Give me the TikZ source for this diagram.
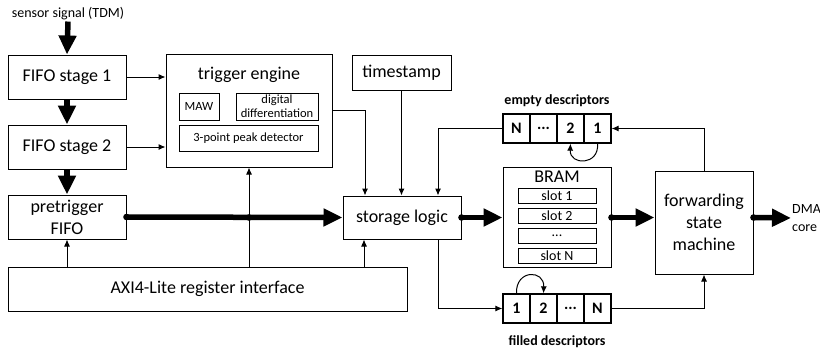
\documentclass[tikz,border=0pt]{standalone}
\usepackage{fontspec}
\setmainfont{Carlito}
\usepackage{tikz}
\usetikzlibrary{arrows.meta,positioning,calc}

\tikzset{
  blk/.style={draw,line width=1pt,fill=white,font=\fontsize{18}{22}\selectfont,align=center,inner sep=0pt},
  sub/.style={draw,line width=1pt,font=\fontsize{12.5}{14}\selectfont,align=center,inner sep=0pt},
  slot/.style={draw,line width=1pt,minimum width=78pt,minimum height=15pt,inner sep=0pt,font=\fontsize{14}{15}\selectfont},
  cell/.style={draw,line width=1.3pt,minimum width=27pt,minimum height=29pt,inner sep=0pt,font=\fontsize{16}{18}\selectfont\bfseries},
  sig/.style={-{Latex[length=7pt,width=6pt]},line width=1pt},
  bus/.style={-{Triangle[length=19pt,width=17pt]},line width=5.5pt},
}

\begin{document}
\begin{tikzpicture}[x=1pt,y=-1pt]
  \useasboundingbox[fill=white] (0,0) rectangle (820,351);

  % input side
  \node[font=\fontsize{14}{16}\selectfont,inner sep=1pt] (sensor) at (68,14) {sensor signal (TDM)};
  \node[blk,minimum width=118pt,minimum height=44pt] (fifo1) at (67,77) {FIFO stage 1};
  \node[blk,minimum width=118pt,minimum height=44pt] (fifo2) at (67,147) {FIFO stage 2};
  \node[blk,minimum width=118pt,minimum height=44pt] (pretrig) at (67,217) {pretrigger\\FIFO};
  \node[blk,minimum width=399pt,minimum height=44pt] (axi) at (207.5,289) {AXI4-Lite register interface};

  % trigger engine
  \node[blk,minimum width=166pt,minimum height=113pt] (trig) at (249,110.5) {};
  \node[font=\fontsize{18}{22}\selectfont] (trigtitle) at (249,75) {trigger engine};
  \node[sub,minimum width=40pt,minimum height=27pt] (maw) at (199,106.5) {MAW};
  \node[sub,minimum width=82pt,minimum height=27pt] (diff) at (277,106.5) {digital\\differentiation};
  \node[sub,minimum width=139pt,minimum height=26pt] (peak) at (248.5,138) {3-point peak detector};

  \node[blk,minimum width=99pt,minimum height=35pt] (stamp) at (401.5,72.5) {timestamp};
  \node[blk,minimum width=118pt,minimum height=43pt] (store) at (402,217.5) {storage logic};

  % BRAM
  \node[blk,minimum width=108pt,minimum height=100pt] (bram) at (557,217) {};
  \node[font=\fontsize{18}{22}\selectfont] (bramtitle) at (557,177) {BRAM};
  \node[slot] (slot1) at (557,195.5) {slot 1};
  \node[slot] (slot2) at (557,215.5) {slot 2};
  \node[slot] (slotdots) at (557,235.5) {...};
  \node[slot] (slotN) at (557,255.5) {slot N};

  % descriptor queues
  \node[font=\fontsize{14}{16}\selectfont\bfseries] (emptylbl) at (557,101) {empty descriptors};
  \node[cell] (eN) at (516.5,128.5) {N};
  \node[cell] (edots) at (543.5,128.5) {...};
  \node[cell] (e2) at (570.5,128.5) {2};
  \node[cell] (e1) at (597.5,128.5) {1};
  \node[cell] (f1) at (516.5,308.5) {1};
  \node[cell] (f2) at (543.5,308.5) {2};
  \node[cell] (fdots) at (570.5,308.5) {...};
  \node[cell] (fN) at (597.5,308.5) {N};
  \node[font=\fontsize{14}{16}\selectfont\bfseries] (filledlbl) at (557,342) {filled descriptors};

  \node[blk,minimum width=98pt,minimum height=103pt] (fsm) at (704,222.5) {forwarding\\state\\machine};
  \node[font=\fontsize{14}{18}\selectfont,align=left,anchor=west,inner sep=1pt] (dma) at (791,218) {DMA\\core};

  % data path
  \draw[bus] (sensor.south) -- (fifo1.north);
  \draw[bus] (fifo1.south) -- (fifo2.north);
  \draw[bus] (fifo2.south) -- (pretrig.north);
  \draw[bus] (pretrig.east) -- (store.west);
  \draw[bus] (store.east) -- (bram.west |- store.east);
  \draw[bus] (bram.east |- store.east) -- (fsm.west |- store.east);
  \draw[bus] (fsm.east |- store.east) -- (dma.west);
  % bus dots
  \fill (pretrig.east) circle (3.3pt);
  \fill (trig.south |- store.west) circle (3.3pt);
  \fill (store.east) circle (3.3pt);
  \fill (bram.east |- store.east) circle (3.3pt);
  \fill (fsm.east |- store.east) circle (3.3pt);

  % control signals
  \draw[sig] (fifo1.east) -- (fifo1.east -| trig.west);
  \draw[sig] (fifo2.east) -- (fifo2.east -| trig.west);
  \draw[sig] (trig.east) -| ([xshift=-37pt]store.north);
  \draw[sig] (stamp.south) -- (stamp.south |- store.north);
  \draw[sig] (eN.west) -| ([xshift=36pt]store.north);
  \draw[sig] (fsm.north) |- (e1.east);
  \draw[sig] ([xshift=36pt]store.south) |- (f1.west);
  \draw[sig] (fN.east) -| (fsm.south);
  \draw[sig] (pretrig.south |- axi.north) -- (pretrig.south);
  \draw[sig] (trig.south |- axi.north) -- (trig.south);
  \draw[sig] ([xshift=-38pt]store.south |- axi.north) -- ([xshift=-38pt]store.south);
  \draw[sig] (e1.south) .. controls +(2,22) and +(-1,22) .. (e2.south);
  \draw[sig] (f1.north) .. controls +(-1,-24) and +(1,-24) .. (f2.north);
\end{tikzpicture}
\end{document}
